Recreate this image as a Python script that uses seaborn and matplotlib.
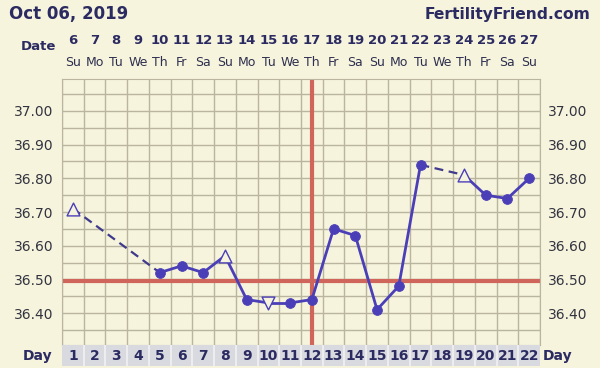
import numpy as np
import pandas as pd
import seaborn as sns
import matplotlib.pyplot as plt
import matplotlib.transforms as mtransforms

# chart data
cycle_days = list(range(1, 23))
dates = [6, 7, 8, 9, 10, 11, 12, 13, 14, 15, 16, 17, 18, 19, 20, 21, 22, 23, 24, 25, 26, 27]
weekdays = ['Su', 'Mo', 'Tu', 'We', 'Th', 'Fr', 'Sa', 'Su', 'Mo', 'Tu', 'We',
            'Th', 'Fr', 'Sa', 'Su', 'Mo', 'Tu', 'We', 'Th', 'Fr', 'Sa', 'Su']
temps = [36.71, None, None, None, 36.52, 36.54, 36.52, 36.57, 36.44, 36.43, 36.43,
         36.44, 36.65, 36.63, 36.41, 36.48, 36.84, None, 36.81, 36.75, 36.74, 36.80]
# 'o' normal, '^' open triangle up, 'v' open triangle down
marks = ['^', None, None, None, 'o', 'o', 'o', '^', 'o', 'v', 'o',
         'o', 'o', 'o', 'o', 'o', 'o', None, '^', 'o', 'o', 'o']
coverline = 36.495
ovulation_day = 12
ytick_vals = [36.40, 36.50, 36.60, 36.70, 36.80, 36.90, 37.00]

bg = '#F6F4DD'
grid_c = '#B9B59E'
navy = '#2B2B62'
blue = '#4B3FB8'
red = '#D0655C'

sns.set_style('white')
plt.rcParams['font.family'] = ['DejaVu Sans']

fig = plt.figure(figsize=(6, 3.68), dpi=100, facecolor=bg)
ax = fig.add_axes([62 / 600, 1 - 345 / 368, 478 / 600, 266 / 368])
ax.set_facecolor(bg)
ax.set_xlim(0.5, 22.5)
ax.set_ylim(36.305, 37.095)

# grid
for x in np.arange(0.5, 23, 1):
    ax.axvline(x, color=grid_c, lw=1, zorder=0)
for y in np.arange(36.30, 37.11, 0.05):
    ax.axhline(y, color=grid_c, lw=1, zorder=0)
for s in ax.spines.values():
    s.set_color(grid_c)

# coverline and ovulation line
ax.axhline(coverline, color=red, lw=3, zorder=1)
ax.axvline(ovulation_day, color=red, lw=3, zorder=1)

# line segments: solid between consecutive days, dashed across gaps
df = pd.DataFrame({'day': cycle_days, 'temp': temps, 'mark': marks}).dropna(subset=['temp'])
rows = df.to_dict('records')
solid, dashed = [], []
for i in range(len(rows) - 1):
    a, b = rows[i], rows[i + 1]
    target = solid if b['day'] - a['day'] == 1 else dashed
    target.append({'seg': i, 'day': a['day'], 'temp': a['temp']})
    target.append({'seg': i, 'day': b['day'], 'temp': b['temp']})
solid = pd.DataFrame(solid)
dashed = pd.DataFrame(dashed)
sns.lineplot(data=solid, x='day', y='temp', units='seg', estimator=None,
             color=blue, lw=2, ax=ax, zorder=3)
sns.lineplot(data=dashed, x='day', y='temp', units='seg', estimator=None,
             color='#3F3A8C', lw=1.6, ax=ax, zorder=3)
for line in ax.lines[-len(dashed['seg'].unique()):]:
    line.set_dashes([4, 2.5])

filled = df[df['mark'] == 'o']
sns.scatterplot(data=filled, x='day', y='temp', marker='o', s=50, color=blue,
                edgecolor=blue, ax=ax, zorder=4)
for m in ['^', 'v']:
    sub = df[df['mark'] == m]
    sns.scatterplot(data=sub, x='day', y='temp', marker=m, s=85, facecolor=bg,
                    edgecolor=blue, linewidth=1, ax=ax, zorder=4)

ax.set_xlabel('')
ax.set_ylabel('')
ax.set_xticks([])
ax.set_yticks(ytick_vals)
ax.set_yticklabels([f'{v:.2f}' for v in ytick_vals])
ax.tick_params(axis='y', length=0, pad=6, labelsize=10, labelcolor='#333340',
               labelleft=True, labelright=True)

# header date rows
trans = mtransforms.blended_transform_factory(ax.transData, fig.transFigure)
for d, dt, wd in zip(cycle_days, dates, weekdays):
    ax.text(d, 1 - 41 / 368, str(dt), transform=trans, ha='center', va='center',
            fontsize=9.5, fontweight='bold', color=navy)
    ax.text(d, 1 - 62 / 368, wd, transform=trans, ha='center', va='center',
            fontsize=9, color='#2F2F50')
fig.text(38 / 600, 1 - 46 / 368, 'Date', ha='center', va='center',
         fontsize=9.5, fontweight='bold', color=navy)

# day row
dax = fig.add_axes([62 / 600, 1 - 366 / 368, 478 / 600, 21 / 368])
dax.set_facecolor('#D9D9E0')
dax.set_xlim(0.5, 22.5)
dax.set_ylim(0, 1)
for x in np.arange(1.5, 22, 1):
    dax.axvline(x, color='#F2F2F4', lw=1.2)
for s in dax.spines.values():
    s.set_visible(False)
dax.set_xticks([])
dax.set_yticks([])
for d in cycle_days:
    dax.text(d, 0.5, str(d), ha='center', va='center', fontsize=10,
             fontweight='bold', color=navy)
fig.text(38 / 600, 1 - 356 / 368, 'Day', ha='center', va='center',
         fontsize=10, fontweight='bold', color=navy)
fig.text(558 / 600, 1 - 356 / 368, 'Day', ha='center', va='center',
         fontsize=10, fontweight='bold', color=navy)

fig.text(9 / 600, 1 - 14 / 368, 'Oct 06, 2019', ha='left', va='center',
         fontsize=12, fontweight='bold', color=navy)
fig.text(591 / 600, 1 - 14 / 368, 'FertilityFriend.com', ha='right', va='center',
         fontsize=11.2, fontweight='bold', color=navy)

fig.savefig('out.png', dpi=100, facecolor=bg)
